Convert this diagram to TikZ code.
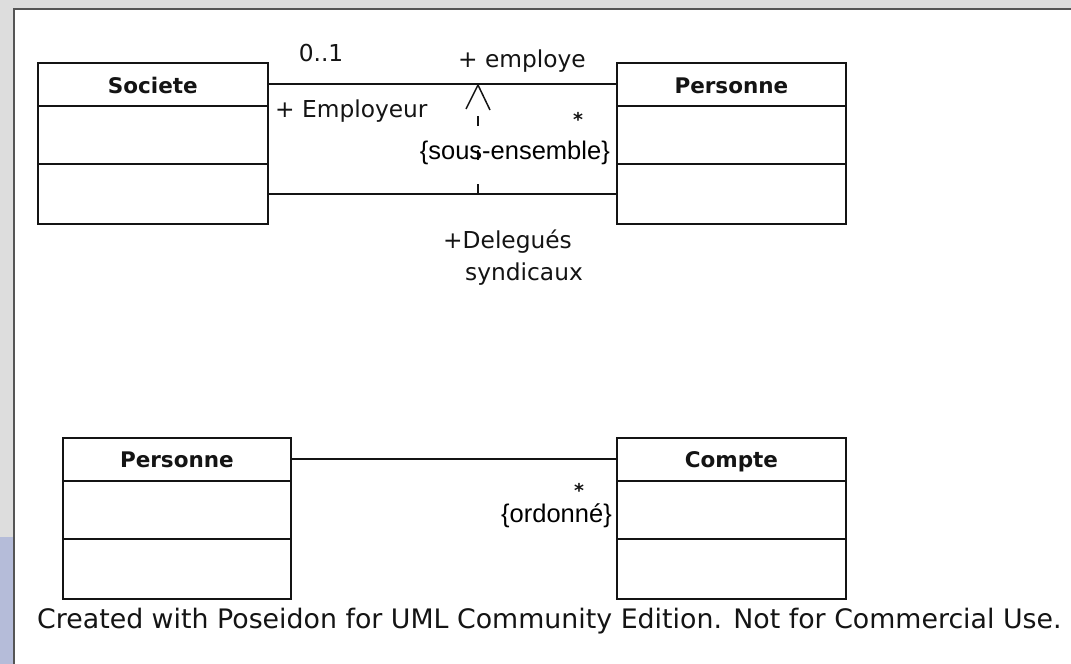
\documentclass[tikz,border=0pt]{standalone}
\usepackage{fontspec}
\setmainfont{DejaVu Sans}
\newfontfamily\arialfont{Liberation Sans}
\definecolor{bggray}{RGB}{221,221,221}
\definecolor{framegray}{RGB}{85,85,85}
\definecolor{lavender}{RGB}{181,188,217}
\definecolor{ink}{RGB}{20,20,20}
\begin{document}
\begin{tikzpicture}[x=1pt,y=-1pt,
  classbox/.style={draw=ink,line width=1.8pt,fill=white,rectangle,inner sep=0pt,
    minimum width=229pt,minimum height=161pt,anchor=north west},
  classname/.style={font=\fontsize{21.5}{24}\selectfont\bfseries,inner sep=0pt,anchor=base,text=ink},
  assoc/.style={draw=ink,line width=1.8pt},
  lbl/.style={font=\fontsize{23.3}{28}\selectfont,inner sep=0pt,text=ink},
  starlbl/.style={font=\fontsize{19}{21}\selectfont\bfseries,inner sep=0pt,text=ink,anchor=base},
  arlbl/.style={font=\arialfont\fontsize{25.5}{30}\selectfont,inner sep=0pt,text=black},
  depline/.style={draw=ink,line width=1.5pt,dash pattern=on 10pt off 24pt},
  deptip/.style={draw=ink,line width=1.5pt}]
\useasboundingbox (0,0) rectangle (1071,664);
% window background
\fill[bggray] (0,0) rectangle (1071,664);
\fill[white] (14,9) rectangle (1071,664);
\fill[lavender] (0,537) rectangle (13,664);
\draw[framegray,line width=1.3pt] (14,664) -- (14,9) -- (1071,9);

% --- top diagram ---
\node[classbox,minimum width=230pt] (soc) at (37,62) {};
\node[classbox] (pers1) at (616,62) {};
\foreach \n in {soc,pers1}{
  \draw[assoc] ([yshift=-44pt]\n.north west) -- ([yshift=-44pt]\n.north east);
  \draw[assoc] ([yshift=-102pt]\n.north west) -- ([yshift=-102pt]\n.north east);
}
\node[classname] (socname) at ([yshift=-31pt]soc.north) {Societe};
\node[classname] (pers1name) at ([yshift=-31pt]pers1.north) {Personne};

\draw[assoc] ([yshift=-22pt]soc.north east) -- ([yshift=-22pt]pers1.north west);
\draw[assoc] ([yshift=-132pt]soc.north east) -- ([yshift=-132pt]pers1.north west);

% dependency {sous-ensemble}
\coordinate (dbot) at (478,194);
\coordinate (dbase) at (478,110);
\coordinate (dtop) at (478,85);
\coordinate (dwl) at (466,109);
\coordinate (dwr) at (490,110);
\draw[depline] (dbot) -- (dbase);
\draw[deptip] (dwl) -- (dtop) -- (dwr);

\node[lbl,anchor=base] (m01) at (321,61) {0..1};
\node[lbl,anchor=base west] (employe) at (458,67) {+ employe};
\node[lbl,anchor=base west] (employeur) at (275,117) {+ Employeur};
\node[starlbl] (star1) at (578,126) {*};
\node[arlbl,anchor=base east] (sous) at (610,159) {\{sous-ensemble\}};
\node[lbl,anchor=base west] (deleg) at (443,248) {+Delegués};
\node[lbl,anchor=base west] (synd) at (465,280) {syndicaux};

% --- bottom diagram ---
\node[classbox,minimum width=228pt] (pers2) at (62,437) {};
\node[classbox] (compte) at (616,437) {};
\foreach \n in {pers2,compte}{
  \draw[assoc] ([yshift=-44pt]\n.north west) -- ([yshift=-44pt]\n.north east);
  \draw[assoc] ([yshift=-102pt]\n.north west) -- ([yshift=-102pt]\n.north east);
}
\node[classname] (pers2name) at ([yshift=-30pt]pers2.north) {Personne};
\node[classname] (comptename) at ([yshift=-30pt]compte.north) {Compte};
\draw[assoc] ([yshift=-22pt]pers2.north east) -- ([yshift=-22pt]compte.north west);
\node[starlbl] (star2) at (579,497) {*};
\node[arlbl,anchor=base east] (ordonne) at (612,522) {\{ordonné\}};

% footer
\node[lbl,font=\fontsize{26.8}{30}\selectfont,anchor=base west] (footer) at (37,628)
  {Created with Poseidon for UML Community Edition. Not for Commercial Use.};
\end{tikzpicture}
\end{document}
